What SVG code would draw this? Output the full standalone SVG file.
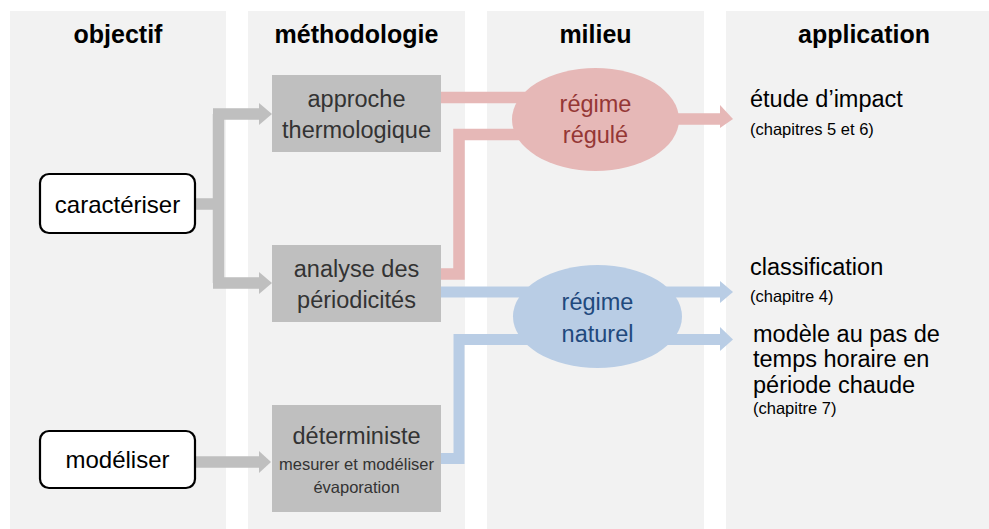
<svg xmlns="http://www.w3.org/2000/svg" width="989" height="529" viewBox="0 0 989 529">
<style>
text{font-family:"Liberation Sans",Arial,sans-serif}
.col{fill:#f2f2f2}
.hd{font-size:25px;font-weight:bold;fill:#000;text-anchor:middle}
.obj{fill:#ffffff;stroke:#000;stroke-width:2.2}
.objt{font-size:24px;fill:#000;text-anchor:middle}
.meth{fill:#bfbfbf}
.mt{font-size:23.5px;fill:#333333;text-anchor:middle}
.ms{font-size:16.5px;fill:#333333;text-anchor:middle}
.gray{stroke:#bfbfbf;stroke-width:11.5;fill:none}
.red{stroke:#e6b8b7;stroke-width:11.5;fill:none}
.blue{stroke:#b9cde5;stroke-width:11;fill:none}
.app{font-size:23.5px;fill:#000}
.ch{font-size:16.5px;fill:#000}
</style>
<rect width="989" height="529" fill="#ffffff"/>
<g id="columns">
<rect class="col" x="10" y="11" width="216" height="518"/>
<rect class="col" x="248" y="11" width="217" height="518"/>
<rect class="col" x="487" y="11" width="217" height="518"/>
<rect class="col" x="726" y="11" width="263" height="518"/>
<text class="hd" x="118" y="43">objectif</text>
<text class="hd" x="356.5" y="43">méthodologie</text>
<text class="hd" x="595.5" y="43">milieu</text>
<text class="hd" x="864" y="43">application</text>
</g>
<g id="connectors">
<path class="gray" d="M195 204H218.5M218.5 114V283M213 114H260M213 283H260"/>
<polygon fill="#bfbfbf" points="259,103 272,114 259,125"/>
<polygon fill="#bfbfbf" points="259,272 272,283 259,294"/>
<path class="gray" d="M195 462H260"/>
<polygon fill="#bfbfbf" points="259,451 271,462 259,473"/>
<path class="red" d="M441 97.5H560M441 274H459V134.5H560M640 119H721"/>
<polygon fill="#e6b8b7" points="720,105 733,119 720,128"/>
<path class="blue" d="M441 292H721M441 458.5H459V339.5H721"/>
<polygon fill="#b9cde5" points="720,281 733,292 720,303"/>
<polygon fill="#b9cde5" points="720,327 733,339.5 720,351"/>
</g>
<g id="caracteriser">
<rect class="obj" x="40" y="174" width="155" height="59" rx="9"/>
<text class="objt" x="117.5" y="213">caractériser</text>
</g>
<g id="modeliser">
<rect class="obj" x="40" y="431" width="155" height="57" rx="9"/>
<text class="objt" x="117.5" y="468">modéliser</text>
</g>
<g id="approche">
<rect class="meth" x="272" y="75" width="169" height="77"/>
<text class="mt" x="356.5" y="107">approche</text>
<text class="mt" x="356.5" y="138">thermologique</text>
</g>
<g id="analyse">
<rect class="meth" x="272" y="245" width="169" height="77"/>
<text class="mt" x="356.5" y="277">analyse des</text>
<text class="mt" x="356.5" y="308">périodicités</text>
</g>
<g id="deterministe">
<rect class="meth" x="272" y="405" width="169" height="107"/>
<text class="mt" x="356.5" y="444">déterministe</text>
<text class="ms" x="356.5" y="470">mesurer et modéliser</text>
<text class="ms" x="356.5" y="493">évaporation</text>
</g>
<g id="regime-regule">
<ellipse cx="595.5" cy="119.5" rx="83.5" ry="51.5" fill="#e6b8b7"/>
<text class="mt" x="595.5" y="112" style="fill:#953735">régime</text>
<text class="mt" x="595.5" y="143" style="fill:#953735">régulé</text>
</g>
<g id="regime-naturel">
<ellipse cx="597.5" cy="316.5" rx="84.5" ry="51.5" fill="#b9cde5"/>
<text class="mt" x="597.5" y="310" style="fill:#1f497d">régime</text>
<text class="mt" x="597.5" y="342" style="fill:#1f497d">naturel</text>
</g>
<g id="etude-impact">
<text class="app" x="750" y="107">étude d’impact</text>
<text class="ch" x="750" y="135">(chapitres 5 et 6)</text>
</g>
<g id="classification">
<text class="app" x="750" y="275">classification</text>
<text class="ch" x="750" y="302">(chapitre 4)</text>
</g>
<g id="modele">
<text class="app" x="753" y="342">modèle au pas de</text>
<text class="app" x="753" y="367">temps horaire en</text>
<text class="app" x="753" y="393">période chaude</text>
<text class="ch" x="753" y="414">(chapitre 7)</text>
</g>
</svg>
